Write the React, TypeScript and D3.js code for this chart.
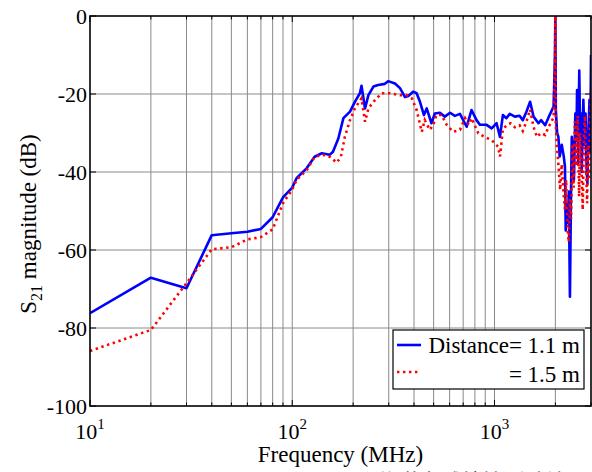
import React from "react";
import * as d3 from "d3";

const W = 592;
const H = 472;
const M = { left: 90, top: 16, right: 1, bottom: 66 };

// Distance = 1.1 m (blue, solid)
const blueFreq = [10, 20, 30, 40, 50, 60, 70, 80, 90, 100, 105, 118, 129, 140, 153, 159, 169, 179, 193, 204, 216, 220, 229, 238, 252, 266, 287, 298, 322, 341, 361, 375, 396, 412, 428, 448, 462, 488, 507, 537, 568, 603, 637, 675, 728, 770, 815, 847, 914, 968, 1024, 1064, 1100, 1145, 1190, 1260, 1330, 1380, 1440, 1500, 1560, 1650, 1700, 1780, 1850, 1960, 1990, 2000, 2010, 2040, 2070, 2100, 2150, 2200, 2230, 2250, 2280, 2310, 2330, 2360, 2390, 2410, 2440, 2470, 2510, 2540, 2560, 2590, 2625, 2650, 2680, 2700, 2750, 2790, 2820, 2850, 2880, 2920, 2950, 2975, 3000];
const blueDb = [-76.2, -67.1, -69.8, -56.2, -55.7, -55.3, -54.6, -51.6, -46.5, -44, -41.6, -39, -36.1, -35.2, -35.6, -34.8, -31.4, -26.2, -24.5, -22, -19.8, -17.9, -23.7, -20.3, -18.1, -17.7, -17.4, -16.7, -17.3, -18.5, -20.8, -20.5, -19.4, -19.8, -22, -25.4, -23.7, -27.5, -25, -24.8, -25.8, -24.8, -25.6, -25.1, -28.4, -24.1, -26.7, -27.9, -27.9, -28.8, -27.5, -31, -25.4, -26.2, -25.1, -25.8, -25.6, -26.7, -24.5, -22, -25.8, -27.5, -26.7, -28, -26, -23.2, -10, 0, -24, -30, -31, -36, -33, -36, -38.6, -55, -48, -53, -45, -72, -45, -31, -34.5, -42, -25, -32, -19, -38, -14, -30, -25, -40, -21.5, -33, -25, -38, -43, -28, -21.5, -35, -10];

// Distance = 1.5 m (red, dotted)
const redFreq = [10, 20, 30, 40, 50, 60, 70, 80, 90, 100, 105, 118, 129, 142, 153, 166, 174, 182, 193, 204, 220, 229, 238, 257, 277, 305, 341, 367, 390, 412, 437, 452, 479, 498, 516, 547, 580, 625, 675, 715, 745, 770, 832, 900, 968, 1040, 1065, 1100, 1150, 1200, 1260, 1330, 1380, 1440, 1500, 1560, 1620, 1700, 1780, 1850, 1960, 1990, 2000, 2010, 2040, 2080, 2110, 2150, 2190, 2230, 2260, 2300, 2330, 2360, 2390, 2430, 2460, 2500, 2540, 2580, 2620, 2650, 2690, 2730, 2770, 2800, 2840, 2870, 2900, 2930, 2960, 3000];
const redDb = [-85.9, -80.5, -68.5, -59.8, -59.3, -57.3, -56.7, -54.7, -48, -44.5, -42, -39.5, -36.1, -35.6, -36.1, -37.6, -36.1, -31, -26.7, -23.7, -21.1, -27.1, -23.7, -21.5, -19.8, -19.8, -20.3, -20.3, -21.1, -24.1, -29.7, -26.7, -29.2, -27.9, -25.4, -25.4, -27.9, -29.7, -29.2, -26.2, -27.9, -26.2, -30.1, -31.1, -31.8, -33.5, -36, -29, -28, -27.5, -28.5, -28, -29.5, -27, -24, -28.5, -31, -30, -30.5, -28.5, -26, -12, 0, -28, -34, -39.5, -44.6, -38, -45, -49.7, -42, -54.9, -58, -47, -52, -32.8, -44, -27, -38.5, -25.6, -46.3, -30, -38.5, -49.7, -30, -25.6, -40, -48, -33, -42, -30, -18.6];

const yTicks = [0, -20, -40, -60, -80, -100];
const xDecades = [10, 100, 1000];
const xDecadeExp = ["1", "2", "3"];
const legendLabels = ["Distance= 1.1 m", "= 1.5 m"];
const xTitle = "Frequency (MHz)";
const captionHead = "图 4-12";
const captionText = "信道衰减特性测试结果";

const SERIF = "Liberation Serif, Times New Roman, DejaVu Serif, serif";
const CJK = "Noto Sans CJK SC, sans-serif";

export default function App() {
  const x0 = M.left;
  const x1 = W - M.right;
  const y0 = M.top;
  const y1 = H - M.bottom;

  const xs = d3.scaleLog().domain([10, 3000]).range([x0, x1]);
  const ys = d3.scaleLinear().domain([-100, 0]).range([y1, y0]);

  const allX = xs.ticks();
  const line = d3
    .line<[number, number]>()
    .x((d) => xs(d[0]))
    .y((d) => ys(d[1]));

  const blue = line(blueFreq.map((f, i) => [f, blueDb[i]] as [number, number])) || "";
  const red = line(redFreq.map((f, i) => [f, redDb[i]] as [number, number])) || "";

  const gridColor = "#8a8a8a";
  const ts = { fontFamily: SERIF };

  return (
    <svg
      width={W}
      height={H}
      style={{ position: "fixed", left: 0, top: 0, background: "#fff", fontFamily: SERIF }}
    >
      <defs>
        <clipPath id="plotclip">
          <rect x={x0} y={y0} width={x1 - x0} height={y1 - y0} />
        </clipPath>
      </defs>
      <rect x={0} y={0} width={W} height={H} fill="#fff" />

      {/* grid */}
      {allX
        .filter((t) => xs(t) > x0 + 0.5 && xs(t) < x1 - 0.5)
        .map((t) => (
          <line key={"gx" + t} x1={xs(t)} x2={xs(t)} y1={y0} y2={y1} stroke={gridColor} strokeWidth={1} />
        ))}
      {yTicks
        .filter((t) => t !== 0 && t !== -100)
        .map((t) => (
          <line key={"gy" + t} x1={x0} x2={x1} y1={ys(t)} y2={ys(t)} stroke={gridColor} strokeWidth={1} />
        ))}

      {/* ticks */}
      {allX.map((t) => {
        const major = xDecades.includes(t);
        const len = major ? 6 : 3.5;
        return (
          <g key={"tx" + t}>
            <line x1={xs(t)} x2={xs(t)} y1={y1} y2={y1 - len} stroke="#000" strokeWidth={1} />
            <line x1={xs(t)} x2={xs(t)} y1={y0} y2={y0 + len} stroke="#000" strokeWidth={1} />
          </g>
        );
      })}
      {yTicks.map((t) => (
        <g key={"ty" + t}>
          <line x1={x0} x2={x0 + 6} y1={ys(t)} y2={ys(t)} stroke="#000" strokeWidth={1} />
          <line x1={x1} x2={x1 - 6} y1={ys(t)} y2={ys(t)} stroke="#000" strokeWidth={1} />
        </g>
      ))}

      {/* data */}
      <g clipPath="url(#plotclip)">
        <path d={blue} fill="none" stroke="#0000ff" strokeWidth={2.6} strokeLinejoin="round" />
        <path d={red} fill="none" stroke="#ff0000" strokeWidth={2.6} strokeDasharray="2.4 3.6" />
      </g>

      {/* axes box */}
      <rect x={x0} y={y0} width={x1 - x0} height={y1 - y0} fill="none" stroke="#000" strokeWidth={1.6} />

      {/* y tick labels */}
      {yTicks.map((t) => (
        <text key={"yl" + t} x={x0 - 3} y={ys(t)} dy="0.35em" textAnchor="end" fontSize={22} fill="#000" style={ts}>
          {t}
        </text>
      ))}

      {/* x tick labels */}
      {xDecades.map((t, i) => (
        <text key={"xl" + t} x={xs(t)} y={439} textAnchor="middle" fontSize={22} fill="#000" style={ts}>
          10
          <tspan dy={-10} fontSize={15}>
            {xDecadeExp[i]}
          </tspan>
        </text>
      ))}

      {/* axis titles */}
      <text x={(x0 + x1) / 2} y={462} textAnchor="middle" fontSize={23} fill="#000" style={ts}>
        {xTitle}
      </text>
      <text transform={`translate(36,224) rotate(-90)`} textAnchor="middle" fontSize={23} fill="#000" style={ts}>
        S
        <tspan dy={6} fontSize={16}>
          21
        </tspan>
        <tspan dy={-6}> magnitude (dB)</tspan>
      </text>

      {/* legend */}
      <g>
        <rect x={393} y={330} width={191} height={59} fill="#fff" stroke="#000" strokeWidth={1.2} />
        <line x1={397} x2={421} y1={345} y2={345} stroke="#0000ff" strokeWidth={2.6} />
        <line x1={397} x2={421} y1={372} y2={372} stroke="#ff0000" strokeWidth={2.6} strokeDasharray="2.4 3.6" />
        <text x={580} y={353} textAnchor="end" fontSize={23} fill="#000" style={ts}>
          {legendLabels[0]}
        </text>
        <text x={580} y={382} textAnchor="end" fontSize={23} fill="#000" style={ts}>
          {legendLabels[1]}
        </text>
      </g>

      {/* caption (cut off at the bottom of the picture, as in the reference) */}
      <text x={141} y={489} fontSize={21} fill="#000" style={{ fontFamily: CJK }}>
        {captionHead}
      </text>
      <text x={377} y={489} fontSize={21} fill="#000" style={{ fontFamily: CJK }}>
        {captionText}
      </text>
    </svg>
  );
}
